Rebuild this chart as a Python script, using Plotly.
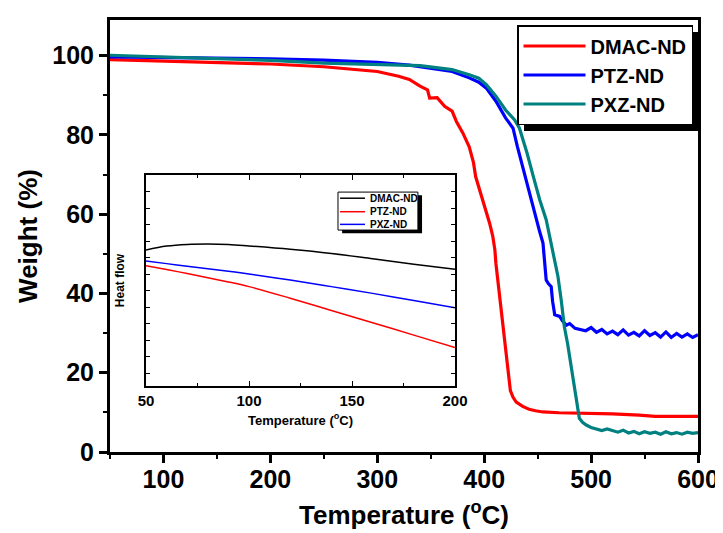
import plotly.graph_objects as go

# ---------------- main TGA data ----------------
dmac_x = [50, 100, 150, 200, 250, 300, 320, 330, 340, 347, 349, 356, 363, 370, 374, 380, 386, 390, 392,
          396, 400, 402, 405, 408, 410, 411, 414, 417, 419, 422, 424.5, 427, 430, 436, 442, 448, 455,
          470, 490, 520, 545, 560, 580, 600]
dmac_y = [99.0, 98.7, 98.4, 97.9, 97.2, 96.0, 94.8, 94.0, 92.3, 91.4, 89.3, 89.4, 87.2, 86.0, 83.4, 80.5,
          77.0, 73.0, 69.5, 66.0, 62.5, 60.3, 57.8, 54.5, 51.0, 47.5, 40.5, 34.0, 29.5, 21.0, 15.5, 13.8,
          12.6, 11.5, 10.8, 10.4, 10.1, 9.9, 9.8, 9.6, 9.3, 9.0, 9.0, 9.0]

ptz_x = [50, 100, 150, 200, 250, 300, 330, 340, 355, 370, 386, 395, 402, 411, 420, 427, 431, 433, 438,
         444, 448.7, 452, 455, 458, 460, 462.7, 464, 466, 470.6, 473, 476.8, 480, 485, 490,
         495, 500, 505, 510, 515, 520, 525, 530, 535, 540, 545, 550, 555, 560, 565, 570, 575, 580,
         585, 590, 595, 600]
ptz_y = [99.7, 99.6, 99.4, 99.2, 98.9, 98.3, 97.6, 97.2, 96.8, 96.0, 94.4, 93.3, 91.8, 88.5, 84.3, 81.7,
         77.1, 75.0, 69.5, 63.6, 58.6, 55.5, 52.7, 43.4, 42.5, 41.7, 38.0, 34.6, 34.2, 33.2, 32.0, 32.4,
         31.2, 31.0,
         30.6, 31.4, 30.2, 30.9, 29.8, 30.5, 29.6, 30.8, 29.5, 30.2, 29.3, 30.6, 29.4, 30.1, 29.0, 30.3,
         28.9, 29.9, 29.0, 29.8, 28.9, 29.6]

pxz_x = [50, 100, 150, 200, 250, 300, 330, 340, 355, 370, 386, 395, 402, 411, 420, 428.5, 433, 440, 446,
         452, 458, 464, 469, 472, 475, 478, 481.4, 484, 486, 489, 492, 495.5, 500, 505, 510, 515, 520,
         525, 530, 535, 540, 545, 550, 555, 560, 565, 570, 575, 580, 585, 590, 595, 600]
pxz_y = [100.1, 99.7, 99.3, 98.8, 98.1, 97.7, 97.5, 97.5, 97.0, 96.5, 95.2, 94.3, 92.7, 89.8, 86.3, 83.8,
         81.7, 75.5, 69.5, 63.6, 58.6, 51.0, 44.3, 38.4, 31.6, 27.4, 21.5, 16.5, 13.1, 8.5, 7.5, 6.8,
         6.2, 5.9, 5.4, 5.8, 5.3, 5.0, 5.5, 4.8, 5.2, 4.6, 5.1, 4.7, 5.0, 4.5, 5.1, 4.6, 4.9, 4.5, 5.0,
         4.7, 4.9]

# ---------------- inset DSC data (arbitrary heat-flow units) ----------------
inset_x = [50, 60, 70, 80, 90, 100, 120, 140, 160, 180, 200]
inset_dmac = [64.5, 66.3, 67.1, 67.3, 67.1, 66.4, 64.8, 62.8, 60.3, 57.7, 55.3]
inset_ptz = [57.0, 55.2, 53.3, 51.3, 49.3, 47.1, 41.6, 35.8, 30.0, 24.1, 18.2]
inset_pxz = [59.2, 58.0, 56.8, 55.6, 54.4, 53.1, 50.2, 47.1, 43.9, 40.5, 37.1]

names = ["DMAC-ND", "PTZ-ND", "PXZ-ND"]
main_colors = ["#ff0000", "#0000ff", "#008080"]
inset_colors = ["#000000", "#ff0000", "#0000ff"]

FONT = "Arial, 'Liberation Sans', sans-serif"

fig = go.Figure()
for xs, ys, nm, c in zip([dmac_x, ptz_x, pxz_x], [dmac_y, ptz_y, pxz_y], names, main_colors):
    fig.add_trace(go.Scatter(x=xs, y=ys, mode="lines", name=nm,
                             line=dict(color=c, width=3.2), xaxis="x", yaxis="y"))

for ys, nm, c in zip([inset_dmac, inset_ptz, inset_pxz], names, inset_colors):
    fig.add_trace(go.Scatter(x=inset_x, y=ys, mode="lines", name=nm, showlegend=False,
                             line=dict(color=c, width=1.5, shape="spline"), xaxis="x2", yaxis="y2"))

# plot area is 588 x 432 px; helpers convert reference pixel positions to paper fractions
def px(xw):
    return (xw - 110) / 588

def py(yw):
    return (452 - yw) / 432

# main legend shadow
shapes = [
    dict(type="rect", xref="paper", yref="paper",
         x0=px(524), x1=px(698), y0=py(131), y1=py(32),
         fillcolor="black", line=dict(width=0), layer="below"),
]
# manual inset legend (box, shadow, samples, labels)
lx0, lx1, ly0, ly1 = 143.2, 182.0, 73.9, 91.9
shapes += [
    dict(type="rect", xref="x2", yref="y2", x0=lx0 + 2.0, x1=lx1 + 2.0, y0=ly0 - 1.5, y1=ly1 - 1.5,
         fillcolor="black", line=dict(width=0), layer="above"),
    dict(type="rect", xref="x2", yref="y2", x0=lx0, x1=lx1, y0=ly0, y1=ly1,
         fillcolor="white", line=dict(color="black", width=1), layer="above"),
]
annotations = []
for nm, c, yy in zip(names, inset_colors, [89.0, 82.6, 76.6]):
    shapes.append(dict(type="line", xref="x2", yref="y2", x0=144.2, x1=156.3, y0=yy, y1=yy,
                       line=dict(color=c, width=1.5), layer="above"))
    annotations.append(dict(xref="x2", yref="y2", x=157.6, y=yy, text=nm, showarrow=False,
                            xanchor="left", yanchor="middle",
                            font=dict(family=FONT, size=10, color="black", weight="bold")))

fig.update_layout(
    width=723, height=533,
    margin=dict(l=102, r=33, t=12, b=89, autoexpand=False),
    paper_bgcolor="white", plot_bgcolor="white",
    font=dict(family=FONT, color="black"),
    showlegend=True,
    legend=dict(x=px(517), y=py(25), xanchor="left", yanchor="top",
                bgcolor="white", bordercolor="black", borderwidth=1.5, itemwidth=62,
                font=dict(family=FONT, size=20, color="black", weight="bold")),
    xaxis=dict(range=[50, 600], domain=[0, 1], showline=True, linewidth=3, linecolor="black",
               mirror=True, ticks="outside", ticklen=8, tickwidth=2.5, tickcolor="black",
               tick0=0, dtick=100, minor=dict(ticks="outside", ticklen=4, tickwidth=2, dtick=50,
                                              tickcolor="black"),
               showgrid=False, zeroline=False, automargin=False, ticklabelstandoff=-5,
               tickfont=dict(family=FONT, size=25, weight="bold"),
               title=dict(text="Temperature (<sup>o</sup>C)", standoff=14,
                          font=dict(family=FONT, size=26, weight="bold"))),
    yaxis=dict(range=[0, 109], domain=[0, 1], showline=True, linewidth=3, linecolor="black",
               mirror=True, ticks="outside", ticklen=8, tickwidth=2.5, tickcolor="black",
               tick0=0, dtick=20, minor=dict(ticks="outside", ticklen=4, tickwidth=2, dtick=10,
                                             tickcolor="black"),
               showgrid=False, zeroline=False, automargin=False,
               tickfont=dict(family=FONT, size=25, weight="bold"),
               title=dict(text="Weight (%)", standoff=8,
                          font=dict(family=FONT, size=26, weight="bold"))),
    xaxis2=dict(range=[50, 200], domain=[px(146), px(455)], anchor="y2", showline=True, linewidth=1.5,
                linecolor="black", mirror="ticks", ticks="inside", ticklen=5, tickwidth=1,
                tickcolor="black", tick0=50, dtick=50, automargin=False,
                minor=dict(ticks="inside", ticklen=3, dtick=25, tickcolor="black"),
                showgrid=False, zeroline=False,
                tickfont=dict(family=FONT, size=15, weight="bold"),
                title=dict(text="Temperature (<sup>o</sup>C)", standoff=8,
                           font=dict(family=FONT, size=13, weight="bold"))),
    yaxis2=dict(range=[0, 100], domain=[py(386), py(175)], anchor="x2", showline=True, linewidth=1.5,
                linecolor="black", mirror="ticks", ticks="inside", ticklen=4, tickwidth=1,
                tickcolor="black", tick0=6.0, dtick=7.82, showticklabels=False,
                showgrid=False, zeroline=False, automargin=False,
                title=dict(text="Heat flow", standoff=17,
                           font=dict(family=FONT, size=12, weight="bold"))),
    shapes=shapes,
    annotations=annotations,
)

fig.write_html("out.html")
